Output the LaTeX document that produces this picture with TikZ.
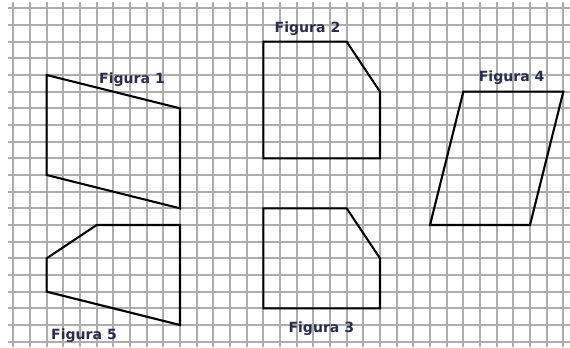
\documentclass[tikz,border=0pt]{standalone}
\usepackage{fontspec}
\setmainfont{DejaVu Sans}
\usetikzlibrary{calc}
\definecolor{figtext}{RGB}{40,46,74}
\tikzstyle{every path}+=[line join=miter]
\tikzstyle{gridline}=[black!32,line width=1.5pt]
\tikzstyle{shapeline}=[black,line width=1.8pt]
\tikzstyle{figlabel}=[font=\bfseries\fontsize{12}{14}\selectfont,text=figtext,anchor=base,inner sep=0pt]
\newcommand{\drawpolygon}[2][\empty]{
	\draw[shapeline,#1] plot coordinates {#2} -- cycle;
}

\begin{document}
\begin{tikzpicture}[x=0.5cm,y=-0.5cm]
	\useasboundingbox (-0.8,-0.5) rectangle (33.4,20.32);
	% squared paper
	\foreach \i in {0,...,33}{
		\draw[gridline] (\i,-0.38) -- (\i,20.32);
	}
	\foreach \j in {0,...,20}{
		\draw[gridline] (-0.32,\j) -- (33.4,\j);
	}
	% figures
	\drawpolygon{(2,4) (10,6) (10,12) (2,10)}
	\drawpolygon{(15,2) (20,2) (22,5) (22,9) (15,9)}
	\drawpolygon{(15,12) (20,12) (22,15) (22,18) (15,18)}
	\drawpolygon{(27,5) (33,5) (31,13) (25,13)}
	\drawpolygon{(5,13) (10,13) (10,19) (2,17) (2,15)}
	% labels
	\node[figlabel] (fig1) at (7.12,4.52) {Figura 1};
	\node[figlabel] (fig2) at (17.65,1.45) {Figura 2};
	\node[figlabel] (fig3) at (18.48,19.46) {Figura 3};
	\node[figlabel] (fig4) at (29.9,4.38) {Figura 4};
	\node[figlabel] (fig5) at (4.24,19.86) {Figura 5};
\end{tikzpicture}
\end{document}
